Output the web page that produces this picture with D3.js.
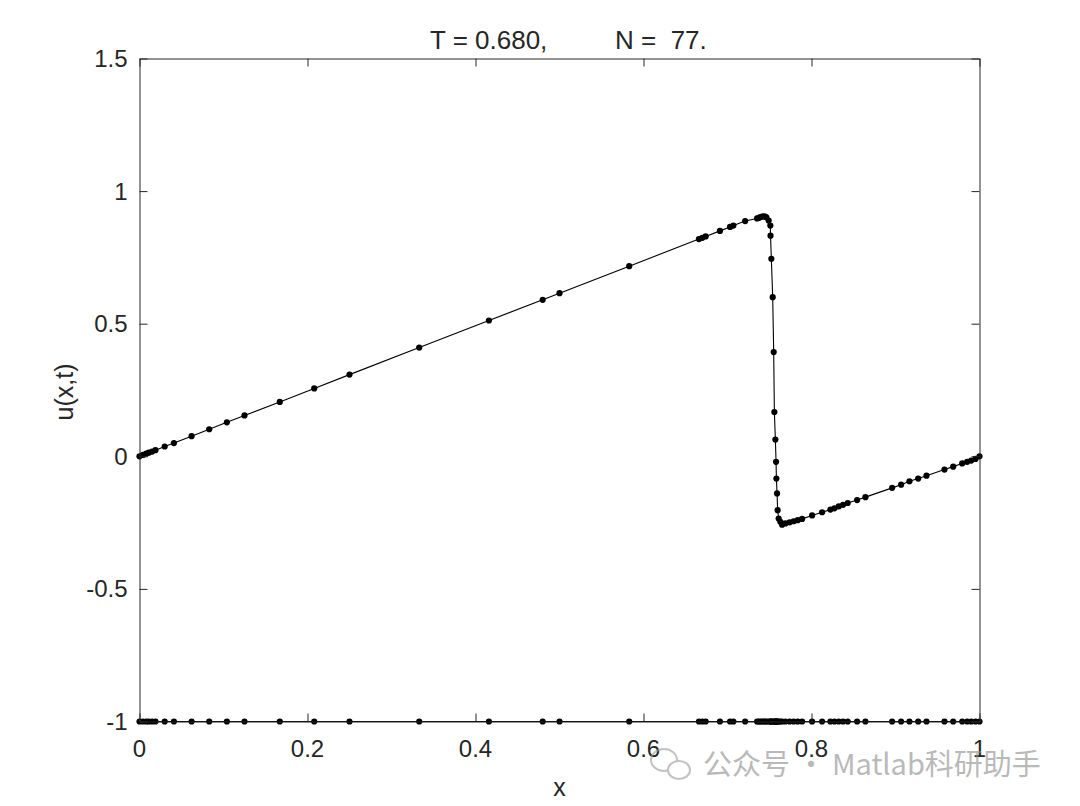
<!DOCTYPE html>
<html>
<head>
<meta charset="utf-8">
<script src="https://cdn.jsdelivr.net/npm/d3@7"></script>
<style>
  html, body { margin: 0; padding: 0; background: #fff; }
  svg { display: block; }
  text { font-family: "Liberation Sans", Arial, Helvetica, sans-serif; fill: #262626; }
</style>
</head>
<body>
<svg id="chart" width="1080" height="806"></svg>
<script>
// ---- data ----
const titleParts = ["T = 0.680,", "N =  77."];
const xLabel = "x";
const yLabel = "u(x,t)";
const xTicks = [0, 0.2, 0.4, 0.6, 0.8, 1];
const xTickLabels = ["0", "0.2", "0.4", "0.6", "0.8", "1"];
const yTicks = [-1, -0.5, 0, 0.5, 1, 1.5];
const yTickLabels = ["-1", "-0.5", "0", "0.5", "1", "1.5"];
const meshLevel = -1;
const watermark = "公众号 · Matlab科研助手";

const xs = [
  0.000, 0.004, 0.008, 0.011, 0.015, 0.019, 0.030, 0.041, 0.062, 0.083,
  0.104, 0.125, 0.167, 0.208, 0.250, 0.333, 0.416, 0.480, 0.500, 0.583,
  0.666, 0.670, 0.674, 0.691, 0.703, 0.707, 0.721,
  0.7352, 0.7372, 0.7391, 0.7411, 0.7431, 0.7447, 0.7463, 0.7490, 0.7510,
  0.7512, 0.7522, 0.7538, 0.7550, 0.7558, 0.7570, 0.7578, 0.7582, 0.7590, 0.7597, 0.7609,
  0.7629, 0.7650, 0.7689, 0.7740, 0.7788, 0.7836, 0.7888,
  0.8007, 0.8126, 0.8225, 0.8273, 0.8324, 0.8376, 0.8431, 0.8543, 0.8642,
  0.8960, 0.9067, 0.9166, 0.9270, 0.9369, 0.9583, 0.9687, 0.9794, 0.9853, 0.9901, 0.9952, 1.000
];
const us = [
  0.000, 0.005, 0.010, 0.0135, 0.018, 0.023, 0.037, 0.050, 0.076, 0.102,
  0.128, 0.154, 0.205, 0.256, 0.308, 0.410, 0.512, 0.590, 0.615, 0.717,
  0.819, 0.824, 0.829, 0.850, 0.865, 0.870, 0.887,
  0.897, 0.899, 0.902, 0.904, 0.905, 0.904, 0.901, 0.889, 0.870,
  0.832, 0.745, 0.600, 0.393, 0.167, 0.063, -0.021, -0.084, -0.140, -0.203, -0.235,
  -0.247, -0.258, -0.253, -0.249, -0.245, -0.241, -0.236,
  -0.223, -0.211, -0.201, -0.196, -0.189, -0.183, -0.176, -0.165, -0.154,
  -0.119, -0.107, -0.094, -0.084, -0.073, -0.050, -0.039, -0.027, -0.021, -0.016, -0.010, 0.000
];

// ---- layout ----
const svg = d3.select("#chart");
const L = 139.5, R = 979.5, T = 58.5, B = 721.5;
const x = d3.scaleLinear().domain([0, 1]).range([L, R]);
const y = d3.scaleLinear().domain([-1, 1.5]).range([B, T]);
const axisColor = "#262626";
const tickLen = 8;

const pts = xs.map((v, i) => ({ x: v, u: us[i] }));

const g = svg.append("g");

// solution line
g.append("path").datum(pts)
  .attr("fill", "none").attr("stroke", "#000").attr("stroke-width", 1.1)
  .attr("d", d3.line().x(d => x(d.x)).y(d => y(d.u)));

// mesh row at -1
g.append("path").datum(xs)
  .attr("fill", "none").attr("stroke", "#000").attr("stroke-width", 1)
  .attr("d", d3.line().x(d => x(d)).y(() => y(meshLevel)));

// dots
g.selectAll("circle.sol").data(pts).enter().append("circle")
  .attr("class", "sol").attr("cx", d => x(d.x)).attr("cy", d => y(d.u)).attr("r", 3.1)
  .attr("fill", "#000");
g.selectAll("circle.mesh").data(xs).enter().append("circle")
  .attr("class", "mesh").attr("cx", d => x(d)).attr("cy", y(meshLevel)).attr("r", 3.1)
  .attr("fill", "#000");

// axes box with inward ticks
const axB = svg.append("g").attr("transform", `translate(0,${B})`)
  .call(d3.axisTop(x).tickValues(xTicks).tickFormat("").tickSizeInner(tickLen).tickSizeOuter(0));
const axT = svg.append("g").attr("transform", `translate(0,${T})`)
  .call(d3.axisBottom(x).tickValues(xTicks).tickFormat("").tickSizeInner(tickLen).tickSizeOuter(0));
const axL = svg.append("g").attr("transform", `translate(${L},0)`)
  .call(d3.axisRight(y).tickValues(yTicks).tickFormat("").tickSizeInner(tickLen).tickSizeOuter(0));
const axR = svg.append("g").attr("transform", `translate(${R},0)`)
  .call(d3.axisLeft(y).tickValues(yTicks).tickFormat("").tickSizeInner(tickLen).tickSizeOuter(0));
[axB, axT, axL, axR].forEach(a => {
  a.selectAll("path").attr("stroke", axisColor);
  a.selectAll("line").attr("stroke", axisColor);
});

// tick labels
svg.append("g").selectAll("text").data(xTicks).enter().append("text")
  .attr("x", d => x(d)).attr("y", B + 35).attr("text-anchor", "middle")
  .attr("font-size", 24).text((d, i) => xTickLabels[i]);
svg.append("g").selectAll("text").data(yTicks).enter().append("text")
  .attr("x", L - 12).attr("y", d => y(d) + 8.5).attr("text-anchor", "end")
  .attr("font-size", 24).text((d, i) => yTickLabels[i]);

// axis labels
svg.append("text").attr("x", (L + R) / 2).attr("y", 796).attr("text-anchor", "middle")
  .attr("font-size", 25).text(xLabel);
svg.append("text").attr("transform", `translate(73,${(T + B) / 2 + 2}) rotate(-90)`)
  .attr("text-anchor", "middle").attr("font-size", 25).text(yLabel);

// title
const tt = svg.append("text").attr("y", 49).attr("font-size", 26)
  .attr("xml:space", "preserve").style("white-space", "pre");
tt.append("tspan").attr("x", 430).text(titleParts[0]);
tt.append("tspan").attr("x", 615).text(titleParts[1]);

// watermark
const wm = svg.append("g").attr("opacity", 0.6);
wm.append("ellipse").attr("cx", 664).attr("cy", 760).attr("rx", 13).attr("ry", 11).attr("fill", "none").attr("stroke", "#9a9a9a").attr("stroke-width", 2);
wm.append("ellipse").attr("cx", 679).attr("cy", 770).attr("rx", 11).attr("ry", 9).attr("fill", "#fff").attr("stroke", "#9a9a9a").attr("stroke-width", 2);
wm.append("text").attr("x", 703).attr("y", 775).attr("font-size", 29)
  .style("font-family", "'Noto Sans CJK SC', 'Noto Sans', sans-serif").style("fill", "#8c8c8c")
  .text(watermark);
</script>
</body>
</html>
